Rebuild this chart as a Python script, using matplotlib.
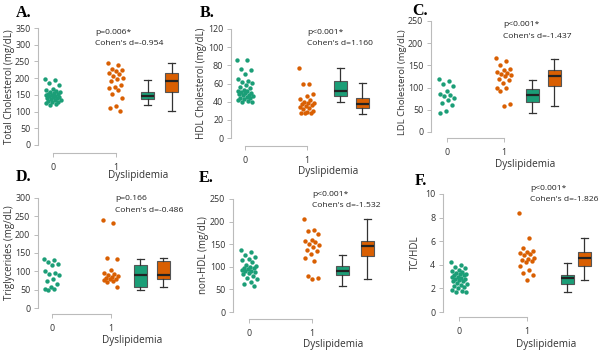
import numpy as np
import matplotlib
matplotlib.use('Agg')
from matplotlib import pyplot as plt

W, H = 602, 353
plt.rcParams['font.family'] = ['Open Sans', 'DejaVu Sans']

green = '#1b9e77'
orange = '#d95f02'

# ---- data ----
tc_no = [196, 193, 186, 178, 168, 165, 162, 160, 158, 156, 154, 152, 150, 149, 147,
         146, 145, 143, 141, 140, 138, 136, 134, 132, 130, 128, 126, 122, 120]
tc_yes = [244, 238, 228, 223, 220, 215, 212, 205, 200, 196, 190, 178, 175, 170, 165,
          152, 142, 117, 110, 103]
hdl_no = [86, 86, 76, 75, 70, 65, 63, 62, 61, 58, 56, 55, 53, 52, 52, 51, 50, 49, 48,
          47, 47, 46, 45, 44, 44, 43, 42, 41, 40, 40]
hdl_yes = [77, 60, 60, 48, 46, 43, 42, 40, 39, 38, 37, 36, 35, 34, 33, 32, 30, 29, 28, 28, 27]
ldl_no = [120, 115, 108, 104, 92, 86, 83, 80, 76, 72, 66, 60, 48, 42]
ldl_yes = [166, 160, 152, 143, 140, 136, 133, 130, 128, 125, 120, 117, 110, 100, 98, 92, 62, 58]
tg_no = [135, 130, 125, 120, 118, 100, 96, 92, 90, 78, 75, 65, 56, 53, 52, 50]
tg_yes = [241, 233, 137, 135, 103, 95, 92, 90, 88, 85, 82, 80, 78, 76, 74, 72, 58]
nhdl_no = [137, 132, 127, 122, 118, 116, 110, 105, 102, 100, 98, 97, 95, 93, 91, 90, 88,
           86, 84, 80, 76, 72, 66, 62, 58]
nhdl_yes = [205, 182, 180, 172, 160, 156, 154, 150, 148, 144, 137, 135, 128, 120, 112, 80, 75, 73]
ratio_no = [4.2, 4.0, 3.8, 3.7, 3.6, 3.5, 3.4, 3.3, 3.2, 3.2, 3.1, 3.1, 3.0, 3.0, 2.9, 2.8,
            2.8, 2.7, 2.6, 2.6, 2.5, 2.4, 2.3, 2.2, 2.1, 2.0, 1.9, 1.8, 1.7, 1.7]
ratio_yes = [8.4, 6.3, 5.4, 5.2, 5.1, 5.0, 4.9, 4.8, 4.6, 4.5, 4.4, 4.3, 4.2, 3.9, 3.6, 3.3, 3.1, 2.7]

# box stats: whislo, q1, med, q3, whishi
box_tc = [[119, 137, 148, 160, 194], [103, 159, 190, 214, 244]]
box_hdl = [[40, 46.7, 52, 63, 76.6], [26.6, 32.8, 37.2, 44.5, 60.5]]
box_ldl = [[42, 67, 84, 97, 118], [58, 104, 127, 140, 165]]
box_tg = [[50, 56, 90, 117, 134], [56, 80, 90, 127, 137]]
box_nhdl = [[57, 81.6, 91, 100.7, 127], [73.5, 123, 145.6, 158, 205]]
box_ratio = [[1.7, 2.36, 2.84, 3.13, 4.18], [2.7, 3.89, 4.57, 5.11, 6.3]]

ylabels = ['Total Cholesterol (mg/dL)', 'HDL Cholesterol (mg/dL)', 'LDL Cholesterol (mg/dL)',
           'Triglycerides (mg/dL)', 'non-HDL (mg/dL)', 'TC/HDL']
letters = ['A.', 'B.', 'C.', 'D.', 'E.', 'F.']
pvals = ['p=0.006*', 'p<0.001*', 'p<0.001*', 'p=0.166', 'p<0.001*', 'p<0.001*']
cohen = ["Cohen's d=-0.954", "Cohen's d=1.160", "Cohen's d=-1.437",
         "Cohen's d=-0.486", "Cohen's d=-1.532", "Cohen's d=-1.826"]
ymax_list = [350, 120, 250, 300, 250, 10]
ystep_list = [50, 20, 50, 50, 50, 2]

groups = [(tc_no, tc_yes), (hdl_no, hdl_yes), (ldl_no, ldl_yes),
          (tg_no, tg_yes), (nhdl_no, nhdl_yes), (ratio_no, ratio_yes)]
boxes = [box_tc, box_hdl, box_ldl, box_tg, box_nhdl, box_ratio]

# ---- layout in pixels ----
# left spine, right, x0, x1, y0, ytop, xaxis_y, box1, box2
layout = [
    (38, 185, 53, 116, 145, 28, 153, 148, 172),
    (231, 375, 245, 307, 138, 29, 146, 340, 362),
    (431, 570, 447, 504, 132, 21, 138, 532, 554),
    (38, 178, 52, 111, 308, 198, 314, 140, 163),
    (233, 382, 249, 312, 312, 199, 319, 342, 367),
    (443, 598, 459, 527, 312, 194, 317, 567, 584),
]
ylab_x = [15, 207, 407, 15, 209, 421]   # right edge of rotated label
ylab_y = [0.5, 0.5, 0.45, 0.5, 0.5, 0.5]
ylab_fs = [7, 7, 6.8, 7, 7, 7]
xlab_pos = [(138, 176), (328, 172), (525, 164), (132, 340), (333, 345), (546, 345)]
ann_pos = [(95, 32), (307, 32), (503, 25), (115, 199), (312, 194), (530, 188)]
letter_pos = [(16, 13), (200, 13), (412, 11), (16, 177), (199, 178), (415, 181)]

fig = plt.figure(figsize=(W / 100, H / 100), dpi=100)
golden = 0.6180339887

for k in range(6):
    left, right, x0, x1, y0, ytop, xay, b1, b2 = layout[k]
    s = x1 - x0
    ax = fig.add_axes([left / W, 1 - y0 / H, (right - left) / W, (y0 - ytop) / H])
    ax.set_xlim(-(x0 - left) / s, (right - x0) / s)
    ymax = ymax_list[k]
    ax.set_ylim(0, ymax)

    for gi, (vals, col) in enumerate(zip(groups[k], [green, orange])):
        n = len(vals)
        jit = np.array([((i * golden) % 1 - 0.5) for i in range(n)]) * 2 * (8 / s)
        ax.scatter(gi + jit, vals, s=10, color=col, linewidths=0, zorder=3)

    stats = []
    for st in boxes[k]:
        stats.append(dict(whislo=st[0], q1=st[1], med=st[2], q3=st[3], whishi=st[4], fliers=[]))
    pos = [(b1 - x0) / s, (b2 - x0) / s]
    bp = ax.bxp(stats, positions=pos, widths=13 / s, capwidths=7 / s, patch_artist=True,
                showfliers=False, manage_ticks=False,
                boxprops=dict(edgecolor='#555555', linewidth=0.8),
                medianprops=dict(color='#222222', linewidth=1.6),
                whiskerprops=dict(color='#333333', linewidth=0.9),
                capprops=dict(color='#333333', linewidth=0.9))
    for patch, col in zip(bp['boxes'], [green, orange]):
        patch.set_facecolor(col)

    for sp in ['top', 'right']:
        ax.spines[sp].set_visible(False)
    ax.spines['left'].set_color('#bbbbbb')
    ax.spines['left'].set_linewidth(0.8)
    ax.spines['bottom'].set_color('#bbbbbb')
    ax.spines['bottom'].set_linewidth(0.8)
    ax.spines['bottom'].set_position(('outward', (xay - y0) * 0.72))
    ax.spines['bottom'].set_bounds(0, 1)
    ax.set_xticks([0, 1])
    ax.set_yticks(np.arange(0, ymax + 0.01, ystep_list[k]))
    ax.tick_params(axis='both', labelsize=6.4, colors='#bbbbbb', labelcolor='#333333',
                   length=3, width=0.7, pad=2.5)
    ax.tick_params(axis='x', pad=4)

    ax.set_ylabel(ylabels[k], fontsize=ylab_fs[k], color='#333333')
    ax.yaxis.set_label_coords((ylab_x[k] - left) / (right - left), ylab_y[k])

    fig.text(xlab_pos[k][0] / W, 1 - xlab_pos[k][1] / H, 'Dyslipidemia', fontsize=7.2,
             color='#333333', ha='center', va='center')
    ax_x, ax_y = ann_pos[k]
    fig.text(ax_x / W, 1 - ax_y / H, pvals[k], fontsize=6.1, color='#222222', va='center')
    fig.text(ax_x / W, 1 - (ax_y + 11.5) / H, cohen[k], fontsize=6.1, color='#222222', va='center')
    fig.text(letter_pos[k][0] / W, 1 - letter_pos[k][1] / H, letters[k], fontsize=11.5,
             fontweight='bold', family='Liberation Serif', color='black', va='center')

fig.savefig('out.png', dpi=100)
